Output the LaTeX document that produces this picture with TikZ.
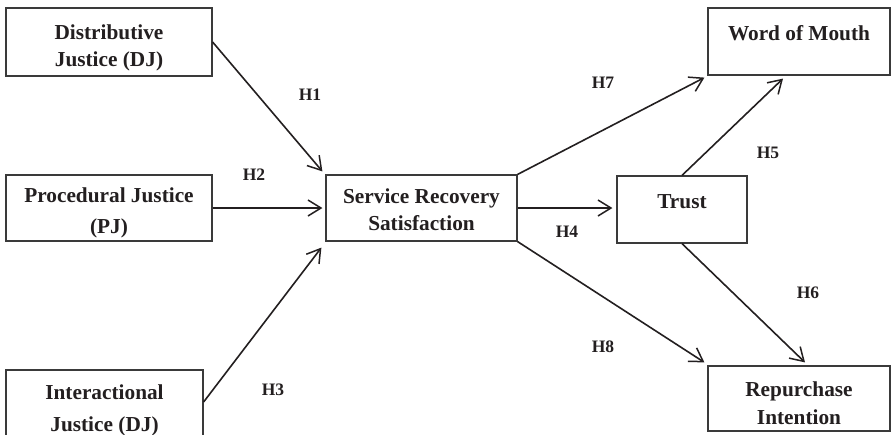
\documentclass[tikz,border=0pt]{standalone}
\usepackage{fontspec}
\setmainfont{Liberation Serif}
\usetikzlibrary{arrows.meta,calc}
\definecolor{ink}{HTML}{231F20}
\definecolor{boxline}{HTML}{3A3A3A}
\begin{document}
\begin{tikzpicture}[x=1pt,y=-1pt,
  box/.style={draw=boxline,line width=1.2pt,inner sep=0pt},
  boxtext/.style={text=ink,align=center,inner sep=0pt,
    font=\bfseries\fontsize{21.3}{27}\selectfont},
  hyp/.style={text=ink,font=\bfseries\fontsize{17.5}{18}\selectfont,inner sep=0pt},
  link/.style={draw=ink,line width=1.6pt,-{Straight Barb[length=13pt,width=16pt,line width=1.5pt]}}]
\clip (0,0) rectangle (891,434);
\fill[white] (0,0) rectangle (891,434);
% boxes
\node[box,minimum width=206pt,minimum height=68pt,
  label={[boxtext,name=djt,yshift=-5.5pt]center:{Distributive\\Justice (DJ)}}] (dj) at (109,42) {};
\node[box,minimum width=206pt,minimum height=66pt,
  label={[boxtext,name=pjt,yshift=-5pt]center:{Procedural Justice\\[4pt](PJ)}}] (pj) at (109,208) {};
\node[box,minimum width=197pt,minimum height=72pt,
  label={[boxtext,name=ijt,yshift=-4pt]center:{Interactional\\[5pt]Justice (DJ)}}] (ij) at (104.5,406) {};
\node[box,minimum width=191pt,minimum height=66pt,
  label={[boxtext,name=srst,yshift=-2pt]center:{Service Recovery\\Satisfaction}}] (srs) at (421.5,208) {};
\node[box,minimum width=130pt,minimum height=67pt,
  label={[boxtext,name=trustt,yshift=8pt]center:{Trust}}] (trust) at (682,209.5) {};
\node[box,minimum width=182pt,minimum height=67pt,
  label={[boxtext,name=womt,yshift=8.5pt]center:{Word of Mouth}}] (wom) at (799,41.5) {};
\node[box,minimum width=182pt,minimum height=65pt,
  label={[boxtext,name=rit,yshift=-5pt]center:{Repurchase\\[1pt]Intention}}] (ri) at (799,398.5) {};
% connectors
\draw[link] (dj.east) -- ([xshift=-3pt,yshift=3pt]srs.north west);
\draw[link] (pj.east) -- ([xshift=-3pt]srs.west);
\draw[link] ([yshift=4pt]ij.east) -- ([xshift=-4pt,yshift=-6pt]srs.south west);
\draw[link] (srs.east) -- ([xshift=-4pt,yshift=1.5pt]trust.west);
\draw[link] (srs.north east) -- ([xshift=-3pt,yshift=-2pt]wom.south west);
\draw[link] (trust.north) -- ([xshift=-16pt,yshift=-3pt]wom.south);
\draw[link] (srs.south east) -- ([xshift=-3pt,yshift=3pt]ri.north west);
\draw[link] (trust.south) -- ([xshift=6pt,yshift=3pt]ri.north);
% hypothesis labels
\node[hyp] (h1) at (310,95) {H1};
\node[hyp] (h2) at (254,175) {H2};
\node[hyp] (h3) at (273,390) {H3};
\node[hyp] (h4) at (567,232) {H4};
\node[hyp] (h5) at (768,153) {H5};
\node[hyp] (h6) at (808,293) {H6};
\node[hyp] (h7) at (603,83) {H7};
\node[hyp] (h8) at (603,347) {H8};
\end{tikzpicture}
\end{document}
